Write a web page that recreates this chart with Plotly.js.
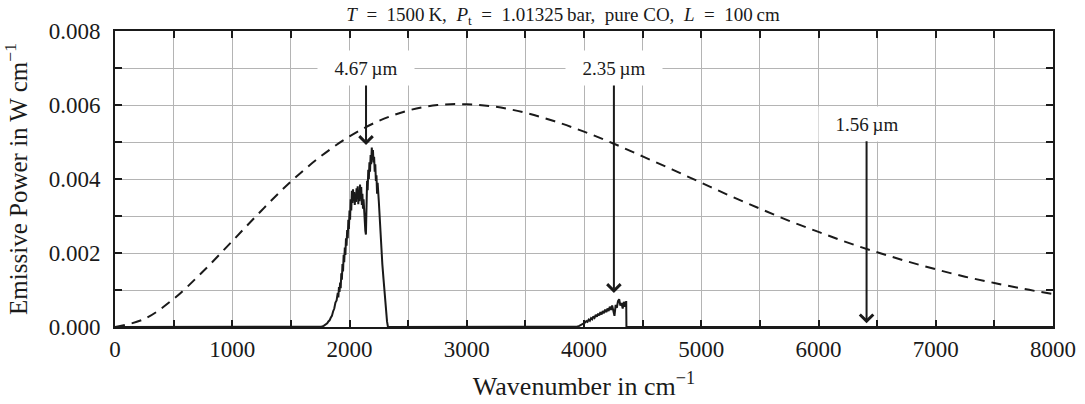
<!DOCTYPE html>
<html>
<head>
<meta charset="utf-8">
<script src="https://cdn.plot.ly/plotly-3.0.1.min.js"></script>
<style>html,body{margin:0;padding:0;background:#fff}#chart{width:1085px;height:404px}</style>
</head>
<body>
<div id="chart"></div>
<script>
// Blackbody emissive power (dashed)
const bbWavenumber = [0,250,500,750,1000,1250,1500,1750,2000,2250,2500,2750,3000,3250,3500,3750,4000,4250,4500,4750,5000,5250,5500,5750,6000,6250,6500,6750,7000,7250,7500,7750,8000];
const bbPower = [0,0.000216,0.00076,0.0015,0.00232,0.00315,0.00393,0.0046,0.00515,0.00557,0.00585,0.006,0.00602,0.00595,0.00579,0.00556,0.00528,0.00496,0.00461,0.00426,0.0039,0.00354,0.0032,0.00287,0.00257,0.00228,0.00202,0.00178,0.00156,0.00136,0.00119,0.00103,0.00089];

// CO fundamental band (spectral emissive power)
const band1Wavenumber = [0,1700,1740,1760,1780,1790,1800,1810,1820,1830,1840,1850,1860,1870,1880,1890,1900,1905,1910,1915,1920,1925,1930,1935,1940,1945,1950,1955,1960,1965,1970,1975,1980,1985,1990,1995,2000,2005,2010,2015,2020,2025,2030,2035,2040,2045,2050,2055,2060,2065,2070,2075,2080,2085,2090,2095,2100,2105,2110,2115,2120,2125,2130,2135,2140,2145,2150,2155,2160,2165,2170,2175,2180,2185,2190,2195,2200,2205,2210,2215,2220,2225,2230,2235,2240,2250,2260,2270,2280,2290,2300,2310,2320,2328];
const band1Power = [0,0,0,0.00001,0.00003,0.00005,0.00008,0.0001,0.00015,0.00018,0.00025,0.0003,0.00042,0.0005,0.00066,0.00072,0.00092,0.0008,0.00108,0.00095,0.0012,0.00105,0.00145,0.00128,0.0017,0.0015,0.00195,0.00175,0.00215,0.00195,0.0024,0.0022,0.00262,0.0024,0.0029,0.00265,0.00315,0.0029,0.00345,0.00315,0.00368,0.00335,0.00372,0.00345,0.00365,0.0033,0.0036,0.00338,0.00375,0.0035,0.0038,0.00332,0.00365,0.0034,0.00385,0.0035,0.00378,0.0033,0.0036,0.0032,0.00345,0.003,0.0031,0.0026,0.0025,0.0033,0.00395,0.0037,0.00425,0.004,0.00445,0.0042,0.00465,0.0044,0.00485,0.00455,0.00478,0.00445,0.0046,0.0042,0.0044,0.00395,0.0041,0.0036,0.0039,0.0034,0.0027,0.0022,0.0017,0.0013,0.00085,0.0005,0.00015,0];

// CO first overtone band
const band2Wavenumber = [3900,3940,3960,3980,4000,4010,4020,4030,4040,4050,4060,4070,4080,4090,4100,4110,4120,4130,4140,4150,4160,4170,4180,4190,4200,4210,4220,4230,4240,4250,4260,4270,4280,4290,4300,4310,4320,4330,4340,4350,4360,4362,8000];
const band2Power = [0,0.00001,0.00003,0.00006,0.0001,0.00012,0.00016,0.00014,0.0002,0.00017,0.00024,0.00021,0.00029,0.00025,0.00033,0.00028,0.00036,0.00031,0.0004,0.00034,0.00043,0.00037,0.00047,0.0004,0.0005,0.00043,0.00055,0.00046,0.00058,0.0004,0.0003,0.0006,0.00052,0.0007,0.00075,0.00058,0.00065,0.0005,0.00068,0.00055,0.0007,0,0];

// Annotated band positions
const markWavenumber = [2141, 4255, 6410];
const markPower = [0.00492, 0.00092, 0.0001];
const markLabelPower = [0.0070, 0.0070, 0.00549];
const markLabels = ['4.67\u2009µm', '2.35\u2009µm', '1.56\u2009µm'];

const xTickVals = [0,500,1000,1500,2000,2500,3000,3500,4000,4500,5000,5500,6000,6500,7000,7500,8000];
const xTickText = ['0','','1000','','2000','','3000','','4000','','5000','','6000','','7000','','8000'];
const yTickVals = [0,0.001,0.002,0.003,0.004,0.005,0.006,0.007,0.008];
const yTickText = ['0.000','','0.002','','0.004','','0.006','','0.008'];

const FONT = 'Liberation Serif, Times New Roman, serif';
const INK = '#1a1a1a';

const specX = band1Wavenumber.concat(band2Wavenumber);
const specY = band1Power.concat(band2Power);

const traces = [
  {x: bbWavenumber, y: bbPower, mode: 'lines', line: {color: INK, width: 2, dash: '10px,7px', shape: 'spline'}, hoverinfo: 'skip'},
  {x: specX, y: specY, mode: 'lines', line: {color: INK, width: 2}, hoverinfo: 'skip'}
];

const annotations = markWavenumber.map((w, i) => ({
  x: w, y: markPower[i], xref: 'x', yref: 'y',
  ax: w, ay: markLabelPower[i], axref: 'x', ayref: 'y',
  text: markLabels[i], showarrow: true,
  arrowhead: 4, arrowsize: 1.3, arrowwidth: 2, arrowcolor: INK,
  font: {family: FONT, size: 19, color: INK},
  bgcolor: '#ffffff', width: 96, height: 34, borderpad: 0
}));

const layout = {
  width: 1085, height: 404,
  margin: {l: 115, r: 32, t: 31, b: 77},
  paper_bgcolor: '#fff', plot_bgcolor: '#fff',
  showlegend: false,
  font: {family: FONT, color: INK},
  title: {
    text: '<i>T</i>\u00a0\u00a0=\u00a0\u00a01500\u2009K,\u00a0\u00a0<i>P</i><sub>t</sub>\u00a0\u00a0=\u00a0\u00a01.01325\u2009bar,\u00a0\u00a0pure CO,\u00a0\u00a0<i>L</i>\u00a0\u00a0=\u00a0\u00a0100\u2009cm',
    font: {family: FONT, size: 19, color: INK},
    x: 563/1085, xref: 'container', xanchor: 'center',
    y: 1 - 14/404, yref: 'container', yanchor: 'middle'
  },
  xaxis: {
    range: [0, 8000], tickmode: 'array', tickvals: xTickVals, ticktext: xTickText,
    ticks: 'inside', ticklen: 7, tickwidth: 2, tickcolor: INK,
    showline: true, linecolor: INK, linewidth: 2, mirror: 'ticks',
    showgrid: true, gridcolor: '#b4b4b4', gridwidth: 1, zeroline: false,
    tickfont: {family: FONT, size: 23, color: INK},
    title: {text: 'Wavenumber in cm<sup>−1</sup>', font: {family: FONT, size: 26, color: INK}, standoff: 16}
  },
  yaxis: {
    range: [0, 0.008], tickmode: 'array', tickvals: yTickVals, ticktext: yTickText,
    ticks: 'inside', ticklen: 7, tickwidth: 2, tickcolor: INK,
    showline: true, linecolor: INK, linewidth: 2, mirror: 'ticks',
    showgrid: true, gridcolor: '#b4b4b4', gridwidth: 1, zeroline: false,
    tickfont: {family: FONT, size: 23, color: INK},
    ticklabelstandoff: 8,
    title: {text: 'Emissive Power in W cm<sup>−1</sup>', font: {family: FONT, size: 25, color: INK}, standoff: 16}
  },
  annotations: annotations
};

Plotly.newPlot('chart', traces, layout, {staticPlot: true, displayModeBar: false});
</script>
</body>
</html>
